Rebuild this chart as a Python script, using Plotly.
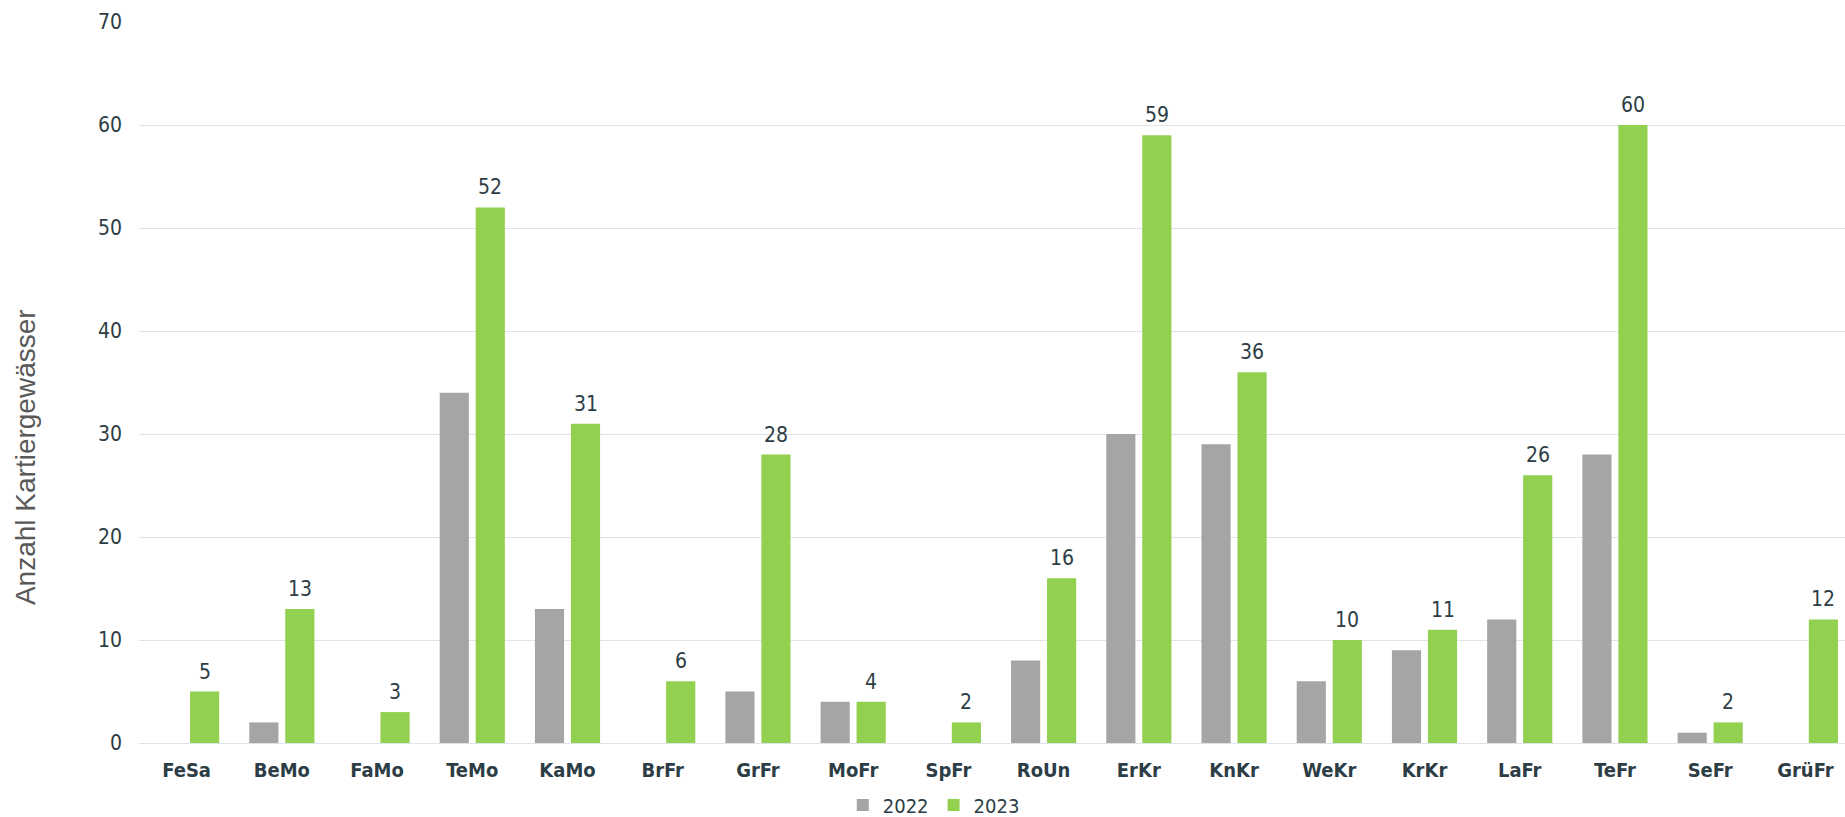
import plotly.graph_objects as go

# Gewässerabschnitte (Kürzel) und Anzahl kartierter Gewässer je Jahr
categories = ["FeSa", "BeMo", "FaMo", "TeMo", "KaMo", "BrFr", "GrFr", "MoFr", "SpFr",
              "RoUn", "ErKr", "KnKr", "WeKr", "KrKr", "LaFr", "TeFr", "SeFr", "GrüFr"]
values_2022 = [0, 2, 0, 34, 13, 0, 5, 4, 0, 8, 30, 29, 6, 9, 12, 28, 1, 0]
values_2023 = [5, 13, 3, 52, 31, 6, 28, 4, 2, 16, 59, 36, 10, 11, 26, 60, 2, 12]
y_ticks = [0, 10, 20, 30, 40, 50, 60, 70]

TEXT = "#2d3d45"
FONT = "DejaVu Sans Condensed, DejaVu Sans, sans-serif"
W, H = 1845, 817
ML, MT, MB = 139.4, 22, 74
CAT_PX = 95.2

fig = go.Figure()
fig.add_trace(go.Bar(name="2022", x=categories, y=values_2022,
                     marker=dict(color="#a5a5a5", line=dict(width=0))))
fig.add_trace(go.Bar(name="2023", x=categories, y=values_2023,
                     marker=dict(color="#92d050", line=dict(width=0))))

# Werte über den 2023-Säulen
for cat, v in zip(categories, values_2023):
    fig.add_annotation(x=cat, y=v, xref="x", yref="y", text=str(v), showarrow=False,
                       xshift=18, yshift=6, xanchor="center", yanchor="bottom",
                       font=dict(family=FONT, size=21, color=TEXT))

# Achsentitel
fig.add_annotation(text="Anzahl Kartiergewässer", xref="paper", yref="paper",
                   x=(26 - ML) / (W - ML), y=(H - MB - 457.5) / (H - MT - MB),
                   xanchor="center", yanchor="middle", textangle=-90, showarrow=False,
                   font=dict(family="Liberation Sans, Arial, sans-serif", size=28, color="#595959"))

right_edge = (W - ML) / CAT_PX - 0.5

fig.update_layout(
    width=W, height=H,
    margin=dict(l=ML, r=0, t=MT, b=MB, autoexpand=False),
    paper_bgcolor="white", plot_bgcolor="white",
    barmode="group", bargap=0.244, bargroupgap=0.19,
    font=dict(family=FONT, size=19, color=TEXT),
    showlegend=True,
    legend=dict(orientation="h", x=(934 - ML) / (W - ML), xanchor="center",
                y=(H - MB - 805) / (H - MT - MB), yanchor="middle",
                font=dict(family=FONT, size=20, color=TEXT), itemwidth=30,
                bgcolor="rgba(0,0,0,0)"),
    xaxis=dict(range=[-0.5, right_edge], showgrid=False, showline=False, zeroline=False,
               ticks="", ticklabelstandoff=13,
               tickfont=dict(family=FONT, size=20, color=TEXT, weight="bold"), fixedrange=True),
    yaxis=dict(range=[0, 70], tickvals=y_ticks, showgrid=True, gridcolor="#dde3e8", gridwidth=1,
               zeroline=True, zerolinecolor="#dde3e8", zerolinewidth=1, showline=False,
               ticks="", ticklabelstandoff=16,
               tickfont=dict(family=FONT, size=21, color=TEXT), fixedrange=True),
)

fig.write_html("out.html", config={"displayModeBar": False})
